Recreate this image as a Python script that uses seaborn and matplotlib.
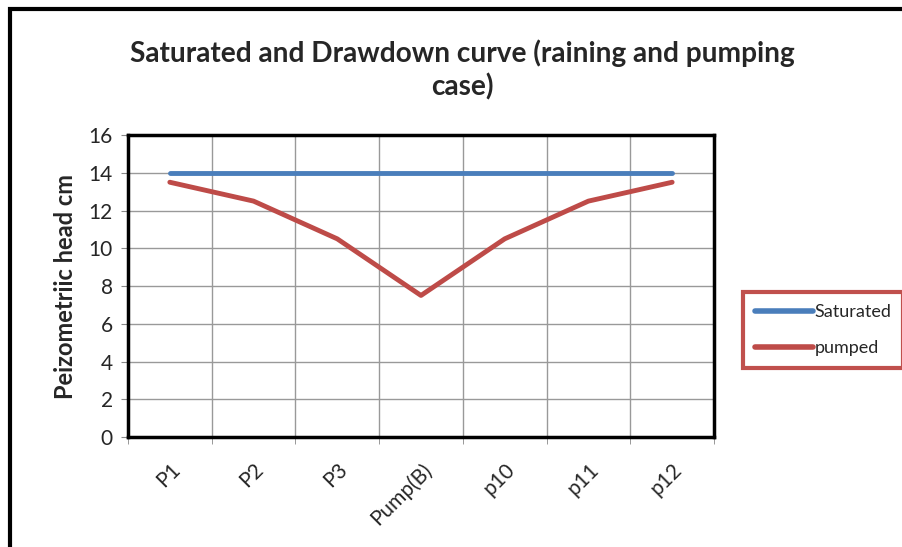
import seaborn as sns
import matplotlib.pyplot as plt
import pandas as pd
from matplotlib.patches import Rectangle
from matplotlib.ticker import MultipleLocator, FixedLocator

# data
points = ['P1', 'P2', 'P3', 'Pump(B)', 'p10', 'p11', 'p12']
saturated = [14, 14, 14, 14, 14, 14, 14]
pumped = [13.5, 12.5, 10.5, 7.5, 10.5, 12.5, 13.5]

df = pd.DataFrame({
    'point': points * 2,
    'head': saturated + pumped,
    'series': ['Saturated'] * len(points) + ['pumped'] * len(points),
})

sns.set_style('white')
plt.rcParams['font.family'] = ['Lato', 'DejaVu Sans']

fig = plt.figure(figsize=(9.03, 5.47), dpi=100)
ax = fig.add_axes([0.1417, 0.2011, 0.649, 0.552])

# outer chart border (right and bottom are cropped in the original)
fig.patches.append(Rectangle((10 / 903, -0.1), 1.2, 1.1 - 9 / 547, transform=fig.transFigure,
                             fill=False, edgecolor='black', linewidth=3, zorder=0))

sns.lineplot(data=df, x='point', y='head', hue='series', sort=False,
             palette={'Saturated': '#4a7ebb', 'pumped': '#be4b48'},
             linewidth=3.5, ax=ax)

ax.set_xlim(-0.5, len(points) - 0.5)
ax.set_ylim(0, 16)
ax.yaxis.set_major_locator(MultipleLocator(2))
ax.xaxis.set_major_locator(FixedLocator(range(len(points))))
ax.set_xticklabels(points, rotation=45, ha='right', rotation_mode='anchor', fontsize=15)
ax.xaxis.set_minor_locator(FixedLocator([i + 0.5 for i in range(-1, len(points))]))
ax.tick_params(axis='x', which='major', length=0, pad=16)
ax.tick_params(axis='x', which='minor', length=5, color='#888888', direction='out')
ax.tick_params(axis='y', length=5, color='#888888', direction='out', labelsize=15, pad=6)
ax.xaxis.set_ticks_position('bottom')
ax.yaxis.set_ticks_position('left')

ax.grid(axis='y', which='major', color='#999999', linewidth=1)
ax.grid(axis='x', which='minor', color='#999999', linewidth=1)
for s in ax.spines.values():
    s.set_color('black')
    s.set_linewidth(2.5)

ax.set_xlabel('')
ax.set_ylabel('Peizometriic head cm', fontsize=17, fontweight='bold', labelpad=8)
fig.text(0.512, 0.872, 'Saturated and Drawdown curve (raining and pumping\ncase)',
         ha='center', va='center', fontsize=20.2, fontweight='bold', linespacing=1.3)

leg = ax.legend(loc='center left', bbox_to_anchor=(1.05, 0.354), frameon=True,
                fontsize=13, handlelength=3.2, handletextpad=0.1, borderpad=0.65,
                labelspacing=1.1, fancybox=False, borderaxespad=0, framealpha=1)
leg.get_frame().set_edgecolor('#c0504d')
leg.get_frame().set_linewidth(3)
for line in leg.get_lines():
    line.set_linewidth(4)

plt.savefig('out.png', dpi=100)
